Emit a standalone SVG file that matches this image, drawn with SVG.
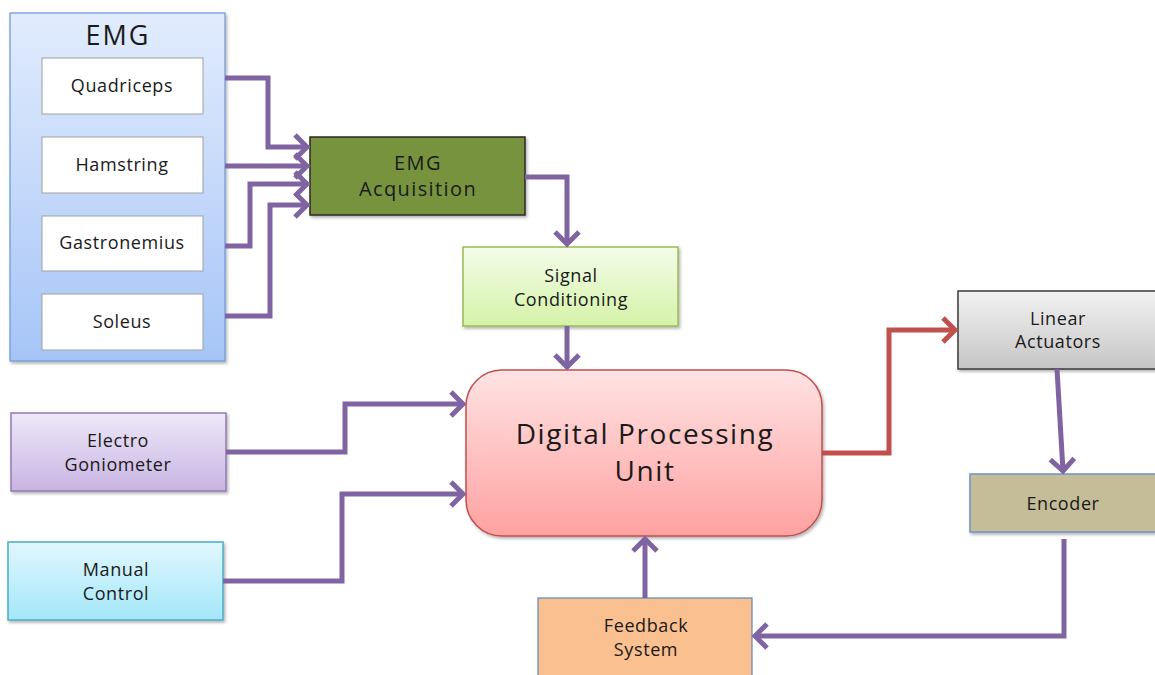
<svg xmlns="http://www.w3.org/2000/svg" width="1155" height="675" viewBox="0 0 1155 675">
<defs>
<linearGradient id="gEmg" x1="0" y1="0" x2="0" y2="1"><stop offset="0" stop-color="#e2ecfd"/><stop offset="1" stop-color="#a6c5f7"/></linearGradient>
<linearGradient id="gSig" x1="0" y1="0" x2="0" y2="1"><stop offset="0" stop-color="#f4fce9"/><stop offset="1" stop-color="#d5f3a8"/></linearGradient>
<linearGradient id="gDpu" x1="0" y1="0" x2="0" y2="1"><stop offset="0" stop-color="#ffe3e3"/><stop offset="1" stop-color="#ffa1a1"/></linearGradient>
<linearGradient id="gLin" x1="0" y1="0" x2="0" y2="1"><stop offset="0" stop-color="#f2f2f2"/><stop offset="1" stop-color="#c6c6c6"/></linearGradient>
<linearGradient id="gGon" x1="0" y1="0" x2="0" y2="1"><stop offset="0" stop-color="#eee8f8"/><stop offset="1" stop-color="#c8b5e3"/></linearGradient>
<linearGradient id="gMan" x1="0" y1="0" x2="0" y2="1"><stop offset="0" stop-color="#e1f7ff"/><stop offset="1" stop-color="#a3e7f9"/></linearGradient>
<filter id="sh" x="-5%" y="-5%" width="115%" height="120%"><feDropShadow dx="1.5" dy="2" stdDeviation="1.5" flood-color="#000" flood-opacity="0.3"/></filter>
<marker id="ap" viewBox="-16 -16 20 32" markerWidth="20" markerHeight="32" refX="0" refY="0" orient="auto" markerUnits="userSpaceOnUse"><path d="M-12,-12 L0,0 L-12,12" fill="none" stroke="#8064a2" stroke-width="5"/></marker>
<marker id="ar" viewBox="-16 -16 20 32" markerWidth="20" markerHeight="32" refX="0" refY="0" orient="auto" markerUnits="userSpaceOnUse"><path d="M-12,-12 L0,0 L-12,12" fill="none" stroke="#c0504d" stroke-width="5"/></marker>
</defs>
<style>
text{font-family:"Open Sans",Lato,"Liberation Sans",sans-serif;fill:#1a1a1a;text-anchor:middle}
.t{font-size:18px;letter-spacing:0.6px}
.m{font-size:20px;letter-spacing:1.4px}
.b{font-size:28px;letter-spacing:1.6px}
.c{fill:none;stroke:#8064a2;stroke-width:5;stroke-linejoin:miter;marker-end:url(#ap)}
.cr{fill:none;stroke:#c0504d;stroke-width:5;marker-end:url(#ar)}
.sub{fill:#fff;stroke:#a0a0a0;stroke-width:1}
</style>
<rect width="1155" height="675" fill="#fff"/>

<g id="emg">
<rect x="10" y="13" width="215" height="348" fill="url(#gEmg)" stroke="#6b96d6" stroke-width="1.2" filter="url(#sh)"/>
<text x="118" y="45" style="font-size:27px;letter-spacing:2px">EMG</text>
</g>
<g id="quadriceps"><rect class="sub" x="42" y="58" width="161" height="56"/><text class="t" x="122" y="92">Quadriceps</text></g>
<g id="hamstring"><rect class="sub" x="42" y="137" width="161" height="56"/><text class="t" x="122" y="171">Hamstring</text></g>
<g id="gastronemius"><rect class="sub" x="42" y="216" width="161" height="55"/><text class="t" x="122" y="249">Gastronemius</text></g>
<g id="soleus"><rect class="sub" x="42" y="294" width="161" height="56"/><text class="t" x="122" y="328">Soleus</text></g>

<g id="emg-acquisition">
<rect x="310" y="137" width="215" height="78" fill="#77933c" stroke="#2a2a2a" stroke-width="1.5" filter="url(#sh)"/>
<text class="m" x="418" y="170">EMG</text>
<text class="m" x="418" y="196">Acquisition</text>
</g>

<g id="signal-conditioning">
<rect x="463" y="247" width="215" height="79" fill="url(#gSig)" stroke="#9bbb59" stroke-width="1.5" filter="url(#sh)"/>
<text class="t" x="571" y="282">Signal</text>
<text class="t" x="571" y="306">Conditioning</text>
</g>

<g id="digital-processing-unit">
<rect x="466" y="370" width="356" height="166" rx="36" ry="36" fill="url(#gDpu)" stroke="#c0504d" stroke-width="1.5" filter="url(#sh)"/>
<text class="b" x="645" y="444">Digital Processing</text>
<text class="b" x="645" y="481">Unit</text>
</g>

<g id="linear-actuators">
<rect x="958" y="291" width="200" height="78" fill="url(#gLin)" stroke="#3a3a3a" stroke-width="1.5" filter="url(#sh)"/>
<text class="t" x="1058" y="325">Linear</text>
<text class="t" x="1058" y="348">Actuators</text>
</g>

<g id="encoder">
<rect x="970" y="474" width="188" height="58" fill="#c4bd97" stroke="#6f93c8" stroke-width="1.5" filter="url(#sh)"/>
<text class="t" x="1063" y="510">Encoder</text>
</g>

<g id="electro-goniometer">
<rect x="11" y="413" width="215" height="78" fill="url(#gGon)" stroke="#9479b5" stroke-width="1.5" filter="url(#sh)"/>
<text class="t" x="118" y="447">Electro</text>
<text class="t" x="118" y="471">Goniometer</text>
</g>

<g id="manual-control">
<rect x="8" y="542" width="215" height="78" fill="url(#gMan)" stroke="#4bacc6" stroke-width="1.5" filter="url(#sh)"/>
<text class="t" x="116" y="576">Manual</text>
<text class="t" x="116" y="600">Control</text>
</g>

<g id="feedback-system">
<rect x="538" y="598" width="214" height="82" fill="#fac08f" stroke="#5b86c0" stroke-width="1.2"/>
<text class="t" x="646" y="632">Feedback</text>
<text class="t" x="646" y="656">System</text>
</g>

<g id="connectors">
<path class="c" d="M225,78 H268 V147 H307"/>
<path class="c" d="M225,166 H307"/>
<path class="c" d="M225,246 H250 V184 H307"/>
<path class="c" d="M225,316 H270 V205 H307"/>
<path class="c" d="M525,177 H567 V244"/>
<path class="c" d="M567,326 V367"/>
<path class="c" d="M226,452 H345 V404 H463"/>
<path class="c" d="M223,581 H342 V494 H463"/>
<path class="cr" d="M822,453 H889 V330 H955"/>
<path class="c" d="M1057,369 L1063,471"/>
<path class="c" d="M1064,539 V636 H755"/>
<path class="c" d="M645,598 V539"/>
</g>
</svg>
